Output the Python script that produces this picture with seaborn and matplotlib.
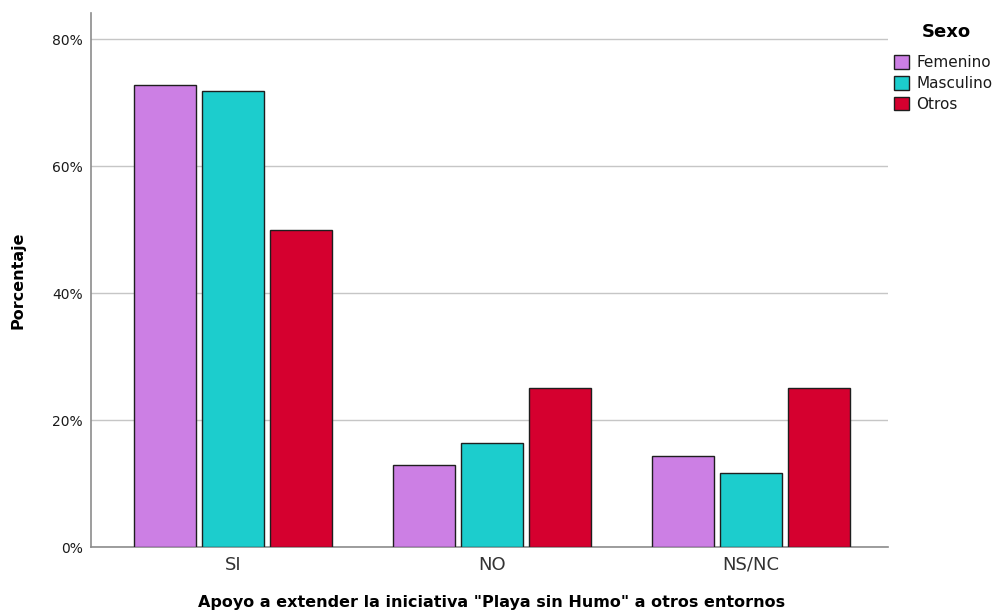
import matplotlib
matplotlib.use("Agg")
import matplotlib.pyplot as plt
import seaborn as sns
import pandas as pd

# ---- data ----
categories = ["SI", "NO", "NS/NC"]
sexo = ["Femenino", "Masculino", "Otros"]
femenino = [72.7, 13.0, 14.3]
masculino = [71.9, 16.4, 11.7]
otros = [50.0, 25.0, 25.0]
yticks = [0, 20, 40, 60, 80]
ytick_labels = ["0%", "20%", "40%", "60%", "80%"]
colors = ["#CC7FE4", "#1CCDCD", "#D5002F"]

rows = []
for s, vals in zip(sexo, [femenino, masculino, otros]):
    for c, v in zip(categories, vals):
        rows.append({"cat": c, "Sexo": s, "pct": v})
df = pd.DataFrame(rows)

sns.set_theme(style="white")
plt.rcParams["font.family"] = ["DejaVu Sans"]

W, H = 1003, 614
fig = plt.figure(figsize=(W / 100, H / 100), dpi=100)
ax = fig.add_axes([91 / W, 1 - 547.3 / H, (888 - 91) / W, (547.3 - 13) / H])

sns.barplot(data=df, x="cat", y="pct", hue="Sexo", order=categories,
            hue_order=sexo, palette=colors, width=0.79, gap=0.09,
            edgecolor="#1e1e1e", linewidth=1.0, saturation=1,
            errorbar=None, ax=ax, zorder=3)

ax.set_xlim(-0.55, 2.53)
ax.set_ylim(0, 84.1)
ax.set_yticks(yticks)
ax.set_yticklabels(ytick_labels)
ax.yaxis.grid(True, color="#c6c6c6", linewidth=1.0)
ax.set_axisbelow(True)

for side in ["top", "right"]:
    ax.spines[side].set_visible(False)
for side in ["left", "bottom"]:
    ax.spines[side].set_color("#8c8c8c")
    ax.spines[side].set_linewidth(1.2)

ax.tick_params(axis="y", length=0, pad=6, labelsize=10, labelcolor="#1a1a1a")
ax.tick_params(axis="x", length=0, pad=6, labelsize=13, labelcolor="#333333")

ax.set_ylabel("Porcentaje", fontsize=11.5, fontweight="bold", color="black")
ax.yaxis.label.set_va("center")
ax.yaxis.set_label_coords(-0.091, 0.5)

ax.set_xlabel('Apoyo a extender la iniciativa "Playa sin Humo" a otros entornos',
              fontsize=11.5, fontweight="bold", color="black")
ax.xaxis.label.set_va("center")
ax.xaxis.set_label_coords(0.5025, -0.104)

leg = ax.legend(loc="upper left",
                bbox_to_anchor=(894 / W, 1 - 55 / H), bbox_transform=fig.transFigure,
                frameon=False, fontsize=11, labelcolor="#1a1a1a",
                handlelength=1.0, handleheight=1.0, handletextpad=0.45,
                labelspacing=0.38, borderpad=0, borderaxespad=0)
fig.text(946 / W, 1 - 32 / H, "Sexo", ha="center", va="center",
         fontsize=13, fontweight="bold", color="black")

fig.savefig("out.png", dpi=100)
